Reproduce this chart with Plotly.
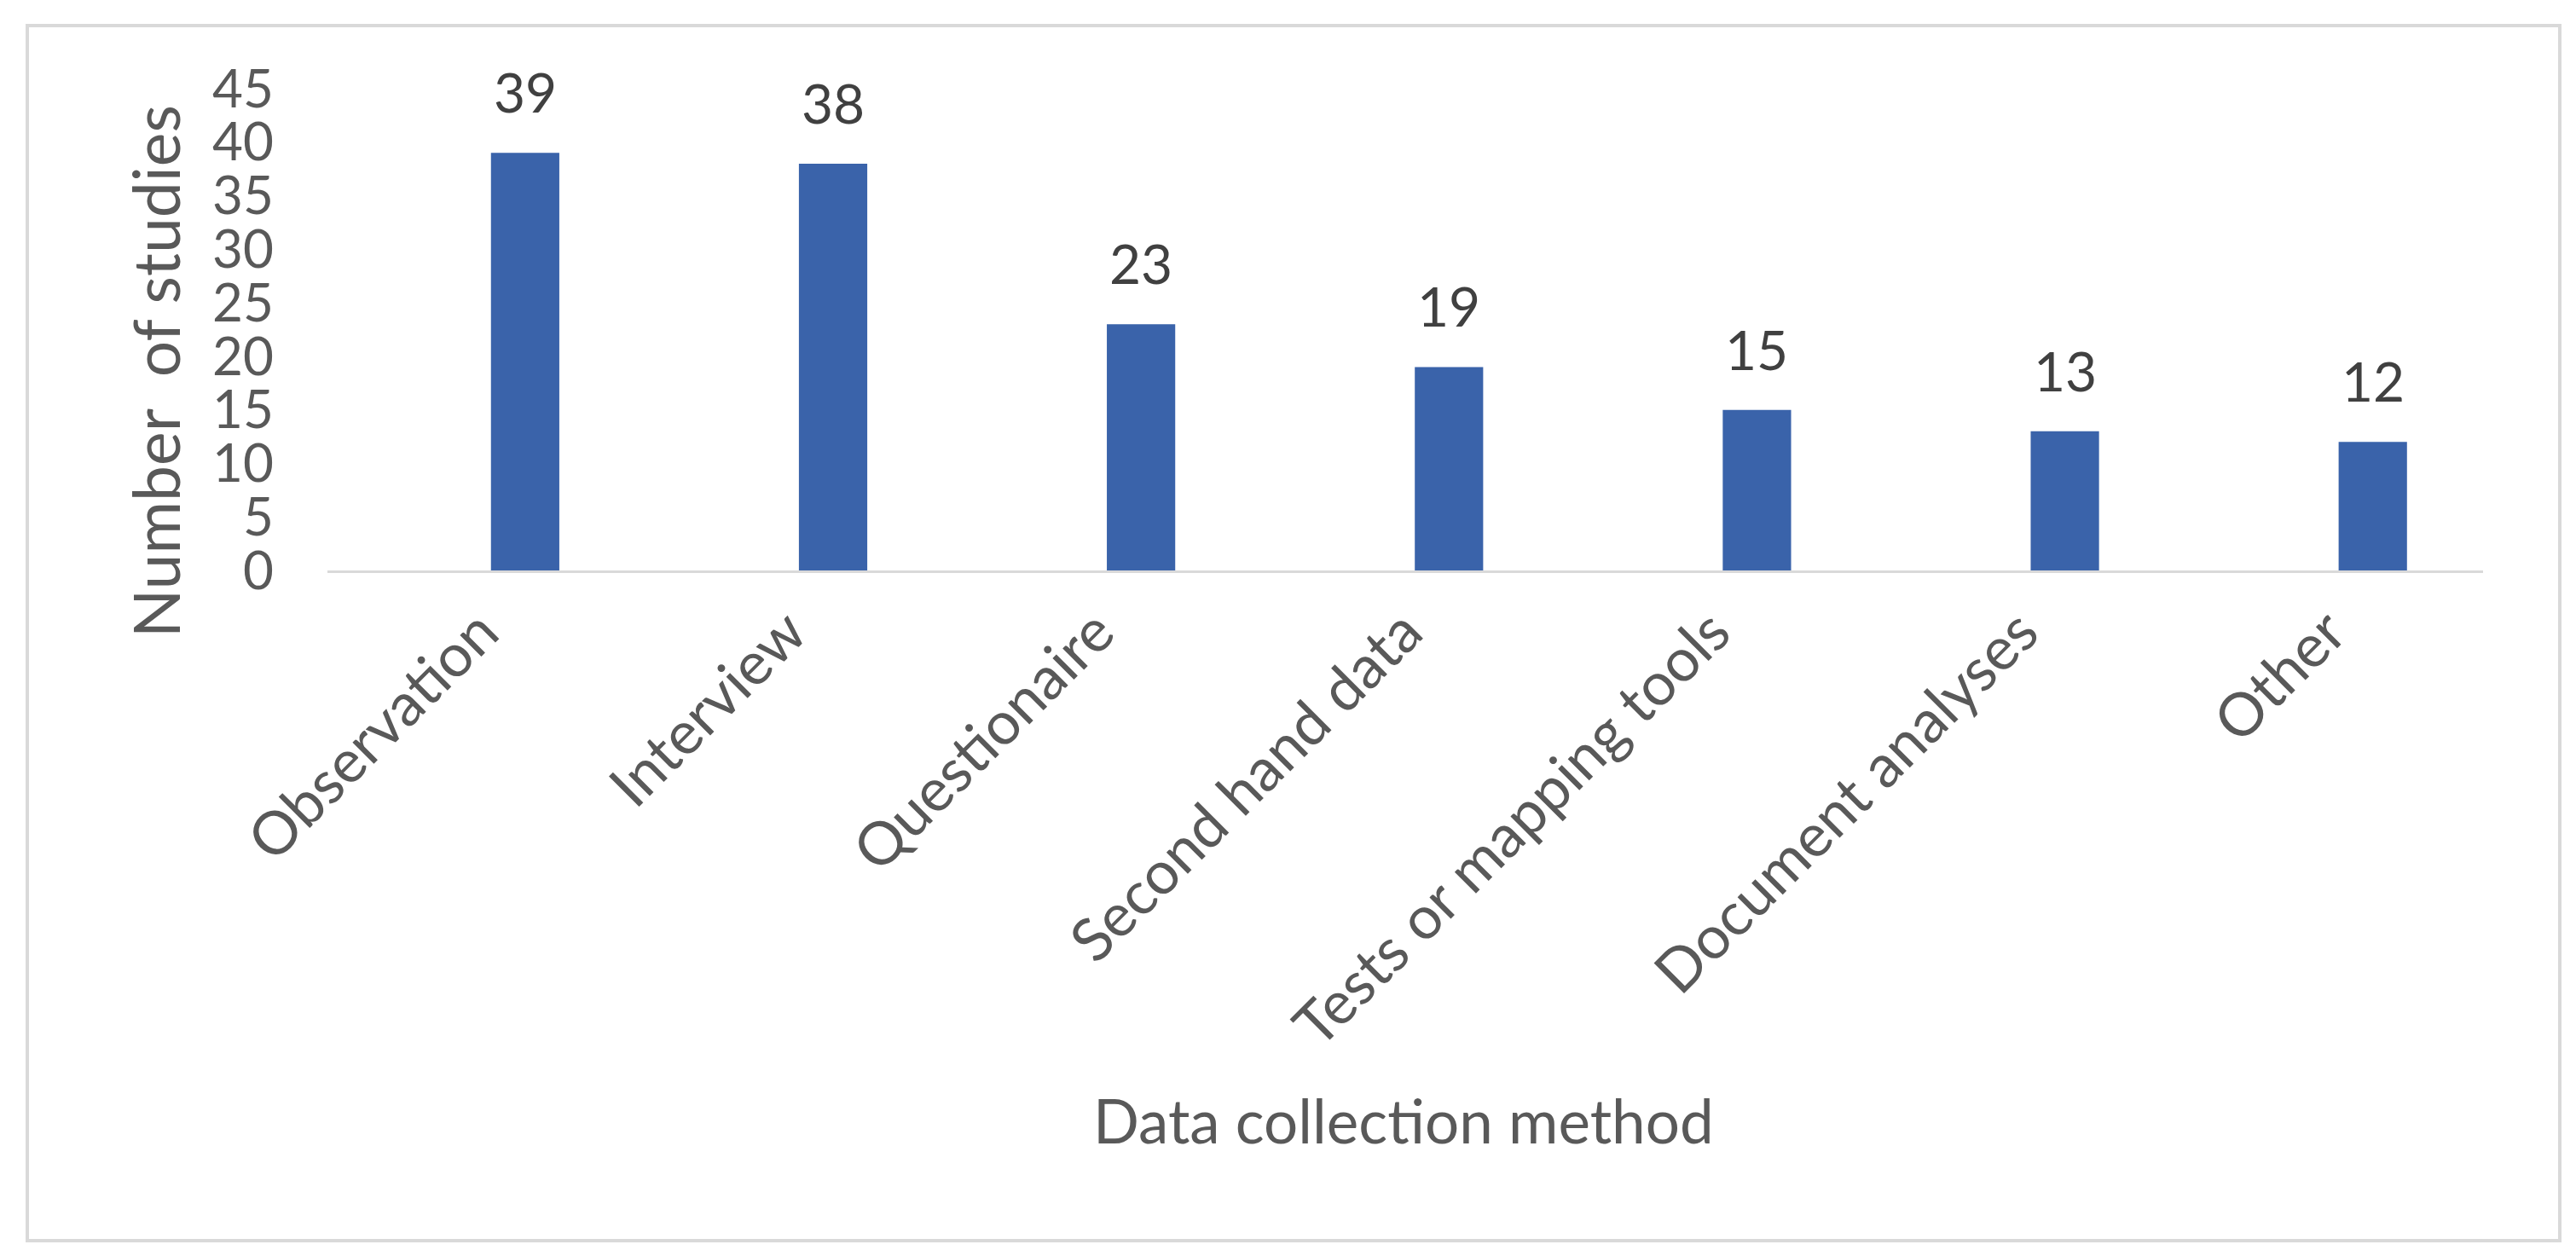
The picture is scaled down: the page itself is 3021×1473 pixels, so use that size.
import plotly.graph_objects as go

categories = ["Observation", "Interview", "Questionaire", "Second hand data",
              "Tests or mapping tools", "Document analyses", "Other"]
values = [39, 38, 23, 19, 15, 13, 12]
y_ticks = [0, 5, 10, 15, 20, 25, 30, 35, 40, 45]

W, H = 3021, 1473
L, R, T, B = 376, 117, 96, 812
FONT = "Lato"
TXT = "#595959"
BAR = "#3A63AA"

fig = go.Figure()
fig.add_trace(go.Bar(x=categories, y=values, marker=dict(color=BAR, line=dict(width=0)),
                     width=0.222, showlegend=False))

ann = []
for c, v in zip(categories, values):
    ann.append(dict(x=c, y=v, xref="x", yref="y", text=str(v), showarrow=False,
                    yanchor="bottom", yshift=31, font=dict(family=FONT, size=64, color="#404040")))

pw = W - L - R
ph = H - T - B
ann.append(dict(x=(1638 - L) / pw, y=(661 - 1305) / ph, xref="paper", yref="paper",
                text="Data collection method", showarrow=False, xanchor="center", yanchor="middle",
                font=dict(family=FONT, size=71, color=TXT)))
ann.append(dict(x=(174 - L) / pw, y=(661 - 428) / ph, xref="paper", yref="paper",
                text="Number  of studies", showarrow=False, textangle=-90,
                xanchor="center", yanchor="middle",
                font=dict(family=FONT, size=75, color=TXT)))

fig.update_layout(
    width=W, height=H,
    margin=dict(l=L, r=R, t=T, b=B, autoexpand=False),
    paper_bgcolor="white", plot_bgcolor="white",
    font=dict(family=FONT, size=64, color=TXT),
    annotations=ann,
    shapes=[dict(type="rect", xref="paper", yref="paper",
                 x0=(24 - L) / pw, x1=(2994 - L) / pw,
                 y0=(661 - 1447) / ph, y1=(661 - 22) / ph,
                 line=dict(color="#D9D9D9", width=4), fillcolor="rgba(0,0,0,0)", layer="below")],
    xaxis=dict(showline=True, linecolor="#D9D9D9", linewidth=3, showgrid=False,
               range=[-0.642, 6.358],
               ticks="", tickangle=-45, tickfont=dict(family=FONT, size=70, color=TXT),
               ticklabelshift=-52, zeroline=False),
    yaxis=dict(range=[0, 45], tickvals=y_ticks, showgrid=False, zeroline=False,
               showline=False, ticks="", ticklabelstandoff=62,
               tickfont=dict(family=FONT, size=62, color=TXT)),
)

fig.write_html("out.html")
